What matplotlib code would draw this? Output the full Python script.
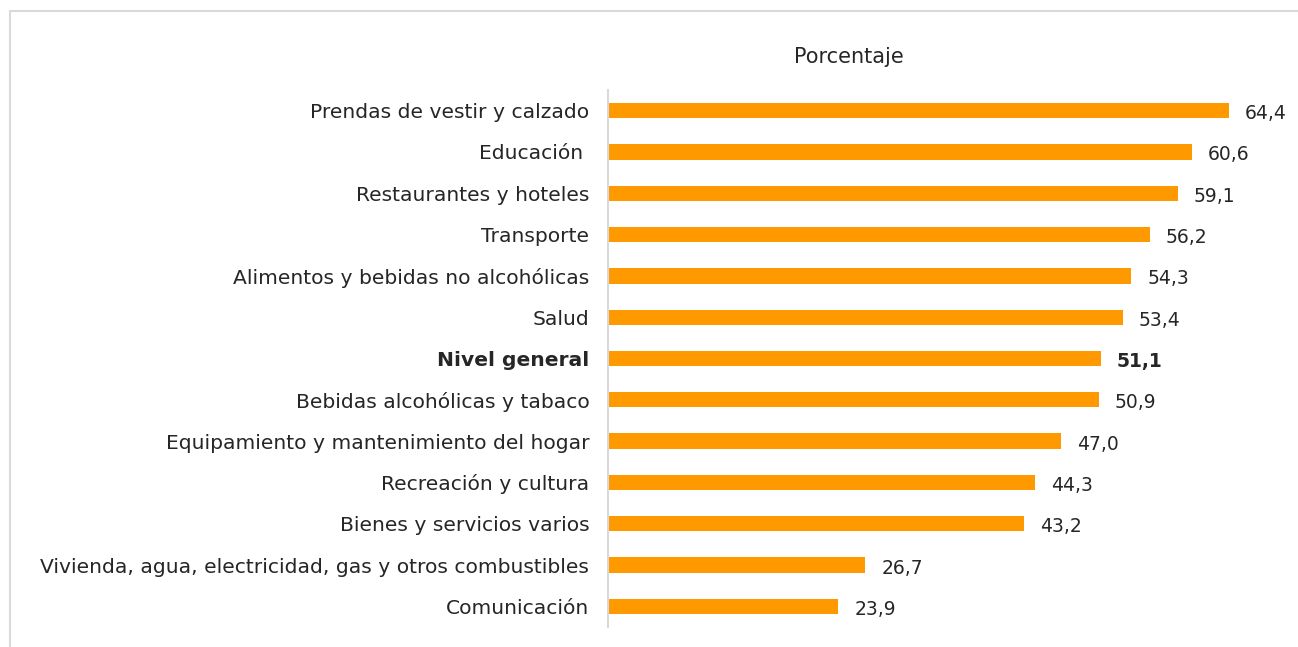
import matplotlib
matplotlib.use("Agg")
import matplotlib.pyplot as plt
from matplotlib.patches import Rectangle

categories = [
    "Prendas de vestir y calzado",
    "Educación ",
    "Restaurantes y hoteles",
    "Transporte",
    "Alimentos y bebidas no alcohólicas",
    "Salud",
    "Nivel general",
    "Bebidas alcohólicas y tabaco",
    "Equipamiento y mantenimiento del hogar",
    "Recreación y cultura",
    "Bienes y servicios varios",
    "Vivienda, agua, electricidad, gas y otros combustibles",
    "Comunicación",
]
values = [64.4, 60.6, 59.1, 56.2, 54.3, 53.4, 51.1, 50.9, 47.0, 44.3, 43.2, 26.7, 23.9]
bold_category = "Nivel general"
title = "Porcentaje"

W, H = 1298, 647
fig = plt.figure(figsize=(W / 100, H / 100), dpi=100)
plt.rcParams['font.family'] = ['DejaVu Sans']

FS_LAB = 14.6
FS_VAL = 13.5
TXT = "#262626"

# outer frame
fig.patches.append(Rectangle((10 / W, -0.1), 1.2, (H - 11) / H + 0.1, transform=fig.transFigure,
                             fill=False, edgecolor="#d9d9d9", linewidth=1.5))

left_px, right_px = 608, 608 + 70 * 9.64
top_px, bot_px = 90, 627
ax = fig.add_axes([left_px / W, 1 - bot_px / H, (right_px - left_px) / W, (bot_px - top_px) / H])

y = list(range(len(categories)))
ax.barh(y, values, height=0.37, color="#FF9900", edgecolor="none")
ax.set_xlim(0, 70)
ax.set_ylim(len(categories) - 0.5, -0.5)

ax.set_yticks(y)
ax.set_yticklabels(categories, fontsize=FS_LAB, color=TXT)
ax.tick_params(axis="y", length=0, pad=13.5)
ax.set_xticks([])
for sp in ["top", "right", "bottom"]:
    ax.spines[sp].set_visible(False)
ax.spines["left"].set_color("#d9d9d9")
ax.spines["left"].set_linewidth(1.5)

for lab in ax.get_yticklabels():
    lab.set_va("center_baseline")

for i, (cat, v) in enumerate(zip(categories, values)):
    bold = cat == bold_category
    ax.annotate(f"{v:.1f}".replace(".", ","), (v, i), xytext=(16, -3), textcoords="offset pixels",
                va="center", ha="left", fontsize=FS_VAL, color=TXT,
                fontweight="bold" if bold else "normal")
    if bold:
        ax.get_yticklabels()[i].set_fontweight("bold")

fig.text(849 / W, 1 - 57 / H, title, ha="center", va="center", fontsize=15, color=TXT)

fig.savefig("out.png", dpi=100)
